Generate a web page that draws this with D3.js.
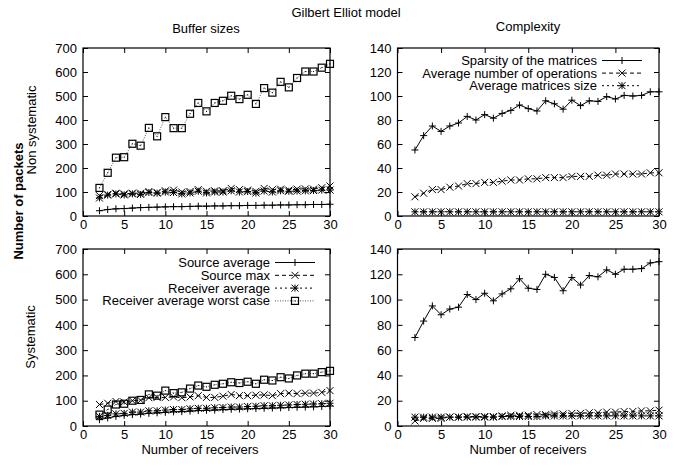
<!DOCTYPE html>
<html>
<head>
<meta charset="utf-8">
<script src="https://cdn.jsdelivr.net/npm/d3@7"></script>
<style>
  body { margin: 0; background: #fff; }
  svg { font-family: "Liberation Sans", Arial, sans-serif; font-size: 13px; }
  .tick text { font-size: 13px; }
</style>
</head>
<body>
<div class="chart"></div>
<script>
const w = 688;
const h = 466;

// number of receivers (x values)
const receivers = d3.range(2, 31);

// Buffer sizes, non systematic
const nsSourceAvg = [22, 27, 30, 31, 33, 35, 36, 37, 38, 39, 39, 40, 41, 41, 42, 42, 43, 43, 44, 44, 45, 45, 46, 46, 47, 47, 48, 48, 49];
const nsSourceMax = [85, 90, 95, 92, 95, 95, 102, 98, 105, 108, 100, 102, 110, 103, 105, 105, 115, 110, 108, 103, 115, 110, 112, 108, 112, 113, 112, 118, 125];
const nsRecvAvg = [75, 87, 92, 88, 92, 90, 98, 95, 100, 98, 92, 96, 103, 96, 100, 100, 105, 100, 102, 96, 104, 100, 105, 103, 104, 105, 106, 108, 108];
const nsRecvWorst = [117, 180, 243, 245, 301, 293, 367, 332, 412, 366, 366, 426, 471, 436, 471, 480, 501, 487, 505, 467, 533, 514, 559, 536, 575, 602, 602, 618, 634];

// Buffer sizes, systematic
const sSourceAvg = [25, 32, 38, 42, 45, 47, 50, 52, 54, 56, 57, 59, 61, 62, 63, 65, 66, 67, 68, 69, 70, 71, 72, 73, 74, 75, 76, 77, 79];
const sSourceMax = [85, 90, 97, 95, 100, 102, 112, 113, 113, 115, 112, 115, 120, 113, 113, 118, 125, 120, 120, 122, 123, 120, 128, 130, 128, 130, 130, 133, 140];
const sRecvAvg = [38, 42, 48, 50, 55, 55, 60, 60, 63, 65, 65, 68, 70, 70, 72, 73, 75, 75, 77, 78, 80, 80, 82, 83, 85, 86, 87, 88, 90];
const sRecvWorst = [45, 65, 85, 88, 100, 103, 125, 120, 140, 130, 133, 148, 160, 155, 163, 167, 173, 170, 175, 167, 183, 180, 193, 188, 200, 207, 207, 213, 218];

// Complexity, non systematic
const nsSparsity = [55, 67, 75, 70.5, 75, 77.5, 83, 80, 84.5, 81.5, 85.5, 88, 92.5, 89.5, 87.5, 96, 93.5, 89, 96.5, 92, 96, 95.5, 99.5, 97.5, 100.5, 100, 100.5, 103.5, 103.5];
const nsOps = [16, 19, 22, 22, 24, 25, 27, 27, 28, 28, 29, 30, 30, 31, 31, 32, 32, 32, 33, 33, 33, 34, 34, 35, 35, 35, 35, 36, 36];
const nsSize = [3.5, 3.5, 3.5, 3.5, 3.5, 3.5, 3.5, 3.5, 3.5, 3.5, 3.5, 3.5, 3.5, 3.5, 3.5, 3.5, 3.5, 3.5, 3.5, 3.5, 3.5, 3.5, 3.5, 3.5, 3.5, 3.5, 3.5, 3.5, 3.5];

// Complexity, systematic
const sSparsity = [70, 83, 95, 88, 92.5, 94, 104, 100, 105, 99, 104.5, 108.5, 116.5, 109, 108, 120, 117.5, 107, 117.5, 111.5, 119, 118, 123.5, 120, 124, 124, 124.5, 129, 130];
const sOps = [4, 6, 6, 6, 7, 7, 7.5, 7.5, 7.5, 7.5, 8, 8.5, 8.5, 8.5, 9, 9, 9.5, 9.5, 10, 10, 10.5, 10.5, 11, 11, 11.5, 11.5, 12, 12, 12.5];
const sSize = [7, 7, 7, 7, 7, 7, 7, 7, 7, 7, 7.5, 7.5, 7.5, 7.5, 7.5, 8, 8, 8, 8, 8, 8, 8, 8, 8, 8, 8, 8, 8, 8];

const bufferNames = ["Source average", "Source max", "Receiver average", "Receiver average worst case"];
const complexityNames = ["Sparsity of the matrices", "Average number of operations", "Average matrices size"];

// line style + point type for each series index (gnuplot style)
const styles = [
  {dash: null, point: "plus", color: "#000"},
  {dash: "4,3", point: "cross", color: "#000"},
  {dash: "2,3", point: "star", color: "#000"},
  {dash: "1,1.5", point: "box", color: "#555"}
];

//create svg
const svg = d3.select(".chart").append("svg")
  .attr("width", w)
  .attr("height", h);

// draw one gnuplot point
function drawPoint(g, type, x, y) {
  const s = 3.5;
  const p = g.append("g").attr("transform", `translate(${x},${y})`)
    .attr("stroke", "#000").attr("stroke-width", 1).attr("fill", "none");
  if (type === "plus" || type === "star") {
    p.append("line").attr("x1", -s).attr("x2", s).attr("y1", 0).attr("y2", 0);
    p.append("line").attr("x1", 0).attr("x2", 0).attr("y1", -s).attr("y2", s);
  }
  if (type === "cross" || type === "star") {
    p.append("line").attr("x1", -s).attr("x2", s).attr("y1", -s).attr("y2", s);
    p.append("line").attr("x1", -s).attr("x2", s).attr("y1", s).attr("y2", -s);
  }
  if (type === "box") {
    p.append("rect").attr("x", -s).attr("y", -s).attr("width", 2 * s).attr("height", 2 * s)
      .attr("stroke-width", 1.2);
    p.append("rect").attr("x", -0.5).attr("y", -0.5).attr("width", 1).attr("height", 1)
      .attr("fill", "#000").attr("stroke", "none");
  }
}

// draw one panel
function drawPanel(box, yMax, yStep, series, legend) {
  const x = d3.scaleLinear().domain([0, 30]).range([box.x0, box.x1]);
  const y = d3.scaleLinear().domain([0, yMax]).range([box.y1, box.y0]);
  const g = svg.append("g");
  const yTicks = d3.range(0, yMax + 1, yStep);
  const xTicks = d3.range(0, 31, 5);

  // axes with inward ticks on bottom/left and mirrored top/right
  g.append("g").attr("transform", `translate(0,${box.y1})`)
    .call(d3.axisBottom(x).tickValues(xTicks).tickSizeInner(-5).tickSizeOuter(0).tickPadding(4))
    .call(a => a.select(".domain").remove());
  g.append("g").attr("transform", `translate(${box.x0},0)`)
    .call(d3.axisLeft(y).tickValues(yTicks).tickSizeInner(-5).tickSizeOuter(0).tickPadding(6))
    .call(a => a.select(".domain").remove());
  g.append("g").attr("transform", `translate(0,${box.y0})`)
    .call(d3.axisTop(x).tickValues(xTicks).tickSizeInner(-5).tickSizeOuter(0).tickFormat(""))
    .call(a => a.select(".domain").remove());
  g.append("g").attr("transform", `translate(${box.x1},0)`)
    .call(d3.axisRight(y).tickValues(yTicks).tickSizeInner(-5).tickSizeOuter(0).tickFormat(""))
    .call(a => a.select(".domain").remove());
  g.selectAll(".tick text").attr("fill", "#000").style("font-family", "Liberation Sans, Arial, sans-serif");
  g.selectAll(".tick line").attr("stroke", "#000");

  const line = d3.line().x((d, i) => x(receivers[i])).y(d => y(d));

  // lines, then points, in series order
  series.forEach((vals, k) => {
    const st = styles[k];
    g.append("path").datum(vals)
      .attr("d", line)
      .attr("fill", "none")
      .attr("stroke", st.color)
      .attr("stroke-width", 1)
      .attr("stroke-dasharray", st.dash);
    vals.forEach((v, i) => drawPoint(g, st.point, x(receivers[i]), y(v)));
  });

  // legend
  if (legend) {
    legend.names.forEach((name, k) => {
      const st = styles[k];
      const ly = legend.y + k * legend.dy;
      g.append("text").attr("x", legend.x).attr("y", ly + 4.5)
        .attr("text-anchor", "end").text(name);
      g.append("line").attr("x1", legend.x + 5).attr("x2", legend.x + 45)
        .attr("y1", ly).attr("y2", ly)
        .attr("stroke", st.color).attr("stroke-width", 1).attr("stroke-dasharray", st.dash);
      drawPoint(g, st.point, legend.x + 25, ly);
    });
  }

  // frame
  g.append("rect").attr("x", box.x0).attr("y", box.y0)
    .attr("width", box.x1 - box.x0).attr("height", box.y1 - box.y0)
    .attr("fill", "none").attr("stroke", "#000").attr("stroke-width", 1.2);
}

drawPanel({x0: 83, x1: 330, y0: 48, y1: 216}, 700, 100, [nsSourceAvg, nsSourceMax, nsRecvAvg, nsRecvWorst], null);
drawPanel({x0: 397.5, x1: 659, y0: 48, y1: 216}, 140, 20, [nsSparsity, nsOps, nsSize],
  {names: complexityNames, x: 597, y: 60.5, dy: 12.6});
drawPanel({x0: 83, x1: 330, y0: 249, y1: 426}, 700, 100, [sSourceAvg, sSourceMax, sRecvAvg, sRecvWorst],
  {names: bufferNames, x: 270, y: 262.5, dy: 12.8});
drawPanel({x0: 397.5, x1: 659, y0: 249, y1: 426}, 140, 20, [sSparsity, sOps, sSize], null);

// titles and labels
svg.append("text").attr("x", 346).attr("y", 17).attr("text-anchor", "middle").text("Gilbert Elliot model");
svg.append("text").attr("x", 206).attr("y", 33).attr("text-anchor", "middle").text("Buffer sizes");
svg.append("text").attr("x", 528).attr("y", 31).attr("text-anchor", "middle").text("Complexity");
svg.append("text").attr("x", 200).attr("y", 454).attr("text-anchor", "middle").text("Number of receivers");
svg.append("text").attr("x", 528).attr("y", 454).attr("text-anchor", "middle").text("Number of receivers");

svg.append("text").attr("transform", "translate(36,130) rotate(-90)").attr("text-anchor", "middle").text("Non systematic");
svg.append("text").attr("transform", "translate(35,337) rotate(-90)").attr("text-anchor", "middle").text("Systematic");
svg.append("text").attr("transform", "translate(23,201) rotate(-90)").attr("text-anchor", "middle")
  .attr("font-weight", "bold").text("Number of packets");
</script>
</body>
</html>
